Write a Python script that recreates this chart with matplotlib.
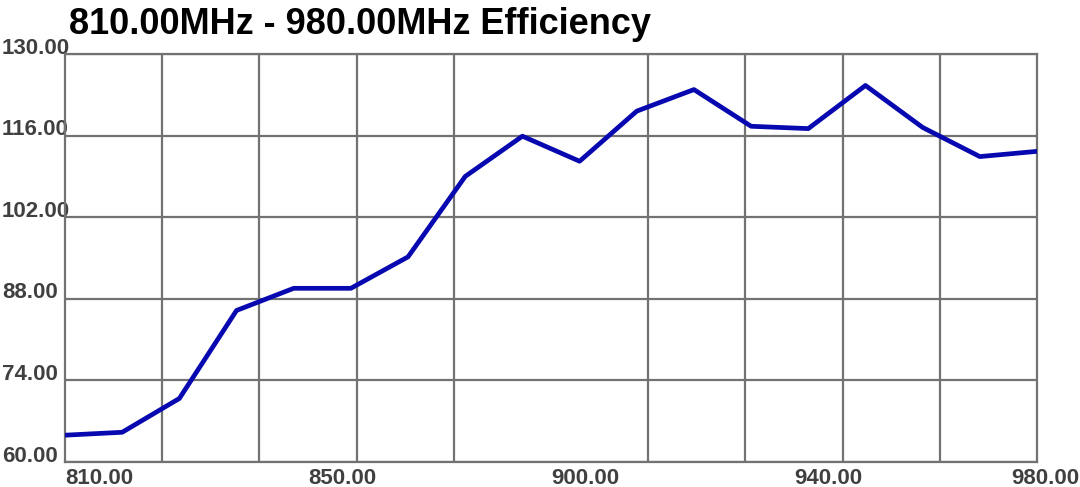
import matplotlib
matplotlib.use('Agg')
import matplotlib.pyplot as plt
from matplotlib.transforms import ScaledTranslation
import numpy as np

# ---- data ----
freq = [810, 820, 830, 840, 850, 860, 870, 880, 890, 900,
        910, 920, 930, 940, 950, 960, 970, 980]
eff = [64.6, 65.1, 70.9, 86.0, 89.8, 89.8, 95.2, 109.0, 115.9, 111.6,
       120.2, 123.9, 117.6, 117.2, 124.6, 117.4, 112.4, 113.3]

x_label_pos = [810, 852.5, 895, 937.5, 980]
x_labels = ['810.00', '850.00', '900.00', '940.00', '980.00']
y_ticks = [60, 74, 88, 102, 116, 130]
y_labels = ['60.00', '74.00', '88.00', '102.00', '116.00', '130.00']
title = '810.00MHz - 980.00MHz Efficiency'

W, H = 1080, 487
fig = plt.figure(figsize=(W / 100, H / 100), dpi=100)
fig.patch.set_facecolor('white')
ax = fig.add_axes([65 / W, 25 / H, 972 / W, 408 / H])

grid_col = '#727272'
txt_col = '#404040'

ax.plot(freq, eff, color='#0808b0', lw=3.4, solid_joinstyle='round',
        solid_capstyle='butt', zorder=3)
ax.set_xlim(810, 980)
ax.set_ylim(60, 130)

# grid lines: 10 vertical divisions, 5 horizontal
ax.set_xticks(np.linspace(810, 980, 11), minor=True)
ax.set_xticks(x_label_pos, x_labels)
ax.set_yticks(y_ticks, y_labels)
ax.grid(which='minor', axis='x', color=grid_col, lw=1.6)
ax.grid(which='major', axis='x', visible=False)
ax.grid(which='major', axis='y', color=grid_col, lw=1.6)
ax.set_axisbelow(True)
for s in ax.spines.values():
    s.set_color(grid_col)
    s.set_linewidth(1.6)

ax.tick_params(axis='x', which='both', length=0, pad=4.2,
               labelsize=16, labelcolor=txt_col)
ax.tick_params(axis='y', which='both', length=0, pad=63 * 72 / 100,
               labelsize=16, labelcolor=txt_col)

for lbl in ax.get_xticklabels():
    lbl.set_fontfamily('Liberation Sans')
    lbl.set_fontweight('bold')
    lbl.set_ha('left')
xl = ax.get_xticklabels()
xl[-1].set_transform(xl[-1].get_transform() +
                     ScaledTranslation(-0.26, 0, fig.dpi_scale_trans))
for lbl in ax.get_yticklabels():
    lbl.set_fontfamily('Liberation Sans')
    lbl.set_fontweight('bold')
    lbl.set_ha('left')
    lbl.set_va('baseline')
    lbl.set_transform(lbl.get_transform() +
                      ScaledTranslation(0, 0.005, fig.dpi_scale_trans))

fig.text(69 / W, 1 - 34 / H, title, ha='left', va='baseline',
         fontsize=26, fontweight='bold', family='Liberation Sans',
         color='black')

fig.savefig('out.png', dpi=100, facecolor='white')
